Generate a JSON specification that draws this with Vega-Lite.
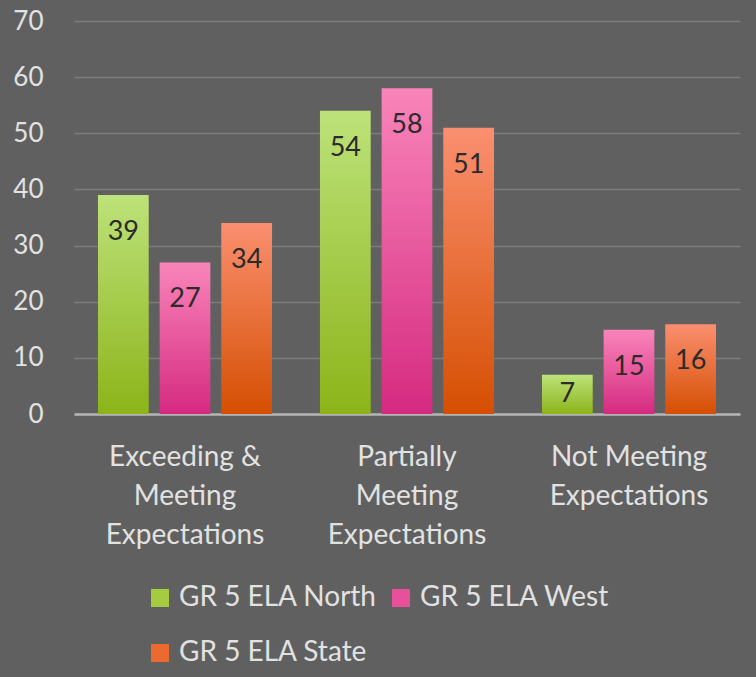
{
  "$schema": "https://vega.github.io/schema/vega-lite/v6.json",
  "width": 666,
  "height": 393,
  "autosize": {"type": "none"},
  "padding": {"left": 74, "top": 21, "right": 16, "bottom": 263},
  "background": "#606060",
  "data": {
    "values": [
      {"category": "Exceeding &|Meeting|Expectations", "series": "GR 5 ELA North", "value": 39},
      {"category": "Exceeding &|Meeting|Expectations", "series": "GR 5 ELA West", "value": 27},
      {"category": "Exceeding &|Meeting|Expectations", "series": "GR 5 ELA State", "value": 34},
      {"category": "Partially|Meeting|Expectations", "series": "GR 5 ELA North", "value": 54},
      {"category": "Partially|Meeting|Expectations", "series": "GR 5 ELA West", "value": 58},
      {"category": "Partially|Meeting|Expectations", "series": "GR 5 ELA State", "value": 51},
      {"category": "Not Meeting|Expectations", "series": "GR 5 ELA North", "value": 7},
      {"category": "Not Meeting|Expectations", "series": "GR 5 ELA West", "value": 15},
      {"category": "Not Meeting|Expectations", "series": "GR 5 ELA State", "value": 16}
    ]
  },
  "config": {
    "view": {"stroke": null},
    "font": "Lato"
  },
  "encoding": {
    "x": {
      "field": "category",
      "type": "nominal",
      "sort": null,
      "title": null,
      "scale": {"paddingInner": 0.216, "paddingOuter": 0.108},
      "axis": {
        "labelExpr": "split(datum.label, '|')",
        "labelAngle": 0,
        "labelFontSize": 28,
        "labelColor": "#e2e2e2",
        "labelLineHeight": 39,
        "labelPadding": 29,
        "labelBaseline": "top",
        "ticks": false,
        "domainColor": "#b4b4b4",
        "domainWidth": 2.5,
        "grid": false
      }
    },
    "xOffset": {
      "field": "series",
      "type": "nominal",
      "sort": ["GR 5 ELA North", "GR 5 ELA West", "GR 5 ELA State"],
      "scale": {"paddingInner": 0.177, "paddingOuter": 0}
    }
  },
  "layer": [
    {
      "mark": {"type": "bar"},
      "encoding": {
        "y": {
          "field": "value",
          "type": "quantitative",
          "title": null,
          "scale": {"domain": [0, 70], "nice": false},
          "axis": {
            "values": [0, 10, 20, 30, 40, 50, 60, 70],
            "labelFontSize": 26,
            "labelColor": "#e2e2e2",
            "labelPadding": 31,
            "ticks": false,
            "domain": false,
            "gridColor": "#7c7c7c",
            "gridWidth": 1.5
          }
        },
        "fill": {
          "field": "series",
          "type": "nominal",
          "sort": ["GR 5 ELA North", "GR 5 ELA West", "GR 5 ELA State"],
          "scale": {
            "domain": ["GR 5 ELA North", "GR 5 ELA West", "GR 5 ELA State"],
            "range": ["#a5cc40", "#e8519a", "#ec6a30"]
          },
          "legend": {
            "title": null,
            "orient": "none",
            "legendX": 72,
            "legendY": 563,
            "direction": "horizontal",
            "columns": 2,
            "symbolType": "square",
            "symbolSize": 324,
            "symbolStrokeWidth": 0,
            "symbolOpacity": 1,
            "labelFontSize": 28,
            "labelColor": "#e2e2e2",
            "labelOffset": 5,
            "columnPadding": 10,
            "rowPadding": 27,
            "labelLimit": 400
          },
          "condition": [
            {"test": "datum.series === 'GR 5 ELA North'", "value": {"gradient": "linear", "x1": 0, "y1": 0, "x2": 0, "y2": 1, "stops": [{"offset": 0, "color": "#bde27a"}, {"offset": 1, "color": "#8cb419"}]}},
            {"test": "datum.series === 'GR 5 ELA West'", "value": {"gradient": "linear", "x1": 0, "y1": 0, "x2": 0, "y2": 1, "stops": [{"offset": 0, "color": "#f985ba"}, {"offset": 1, "color": "#d52a80"}]}},
            {"test": "datum.series === 'GR 5 ELA State'", "value": {"gradient": "linear", "x1": 0, "y1": 0, "x2": 0, "y2": 1, "stops": [{"offset": 0, "color": "#fa8f70"}, {"offset": 1, "color": "#d54f02"}]}}
          ]
        }
      }
    },
    {
      "transform": [
        {"calculate": "datum.value > 12 ? datum.value - 6.6 : datum.value / 2", "as": "labelPos"}
      ],
      "mark": {"type": "text", "fontSize": 27, "color": "#2b2b2b", "baseline": "middle"},
      "encoding": {
        "y": {"field": "labelPos", "type": "quantitative", "scale": {"domain": [0, 70], "nice": false}},
        "text": {"field": "value", "type": "quantitative"}
      }
    }
  ]
}
